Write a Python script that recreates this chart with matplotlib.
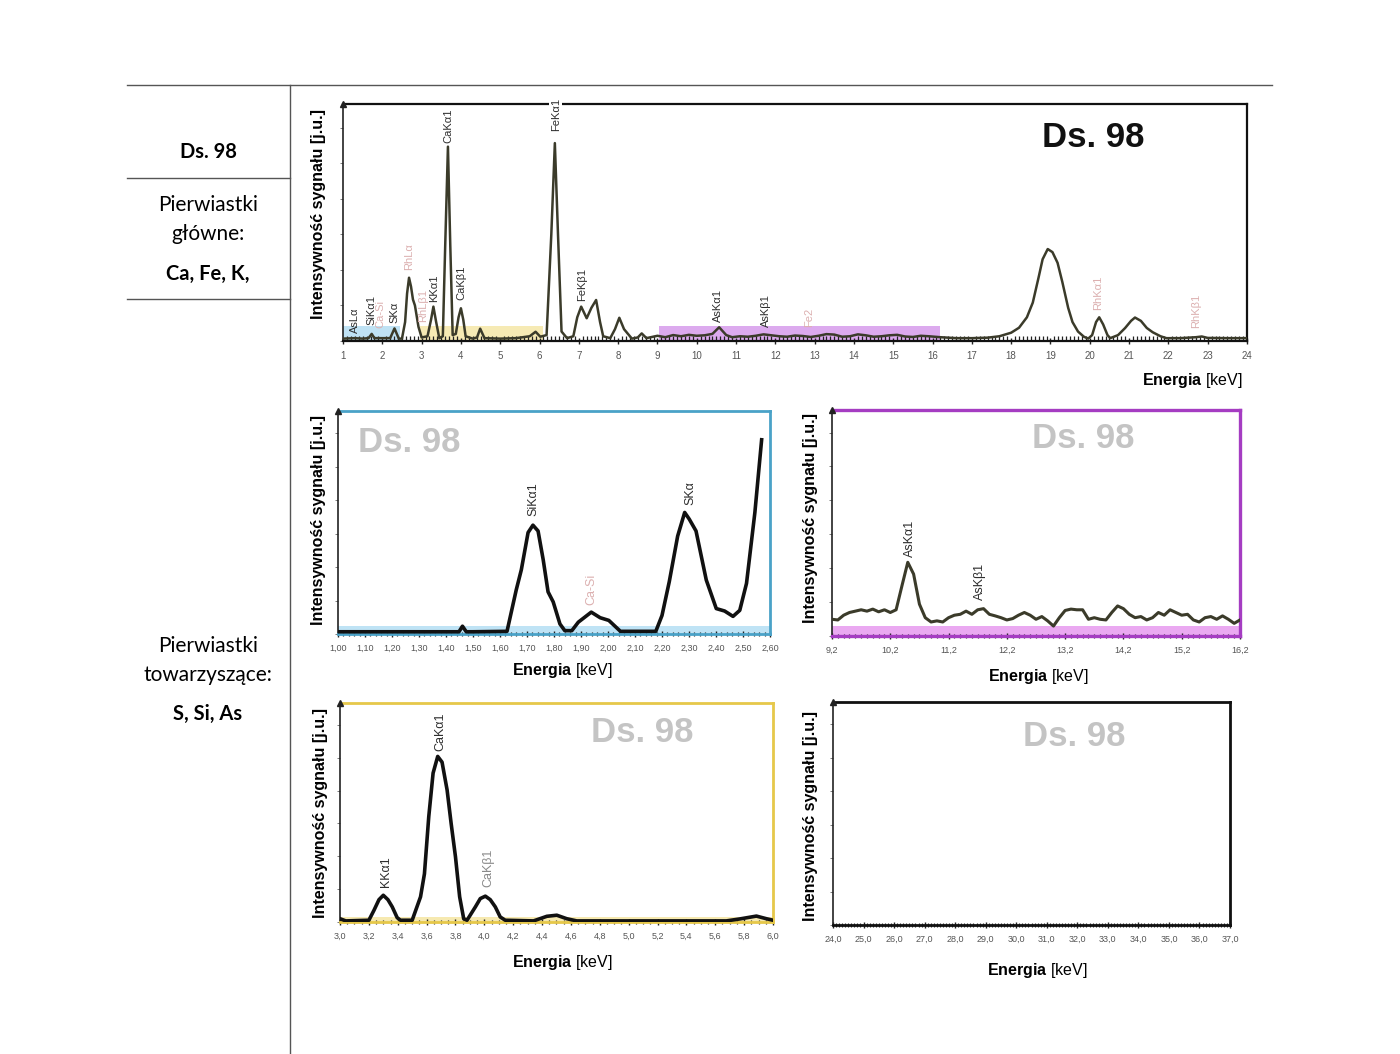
import matplotlib
matplotlib.use("Agg")

import numpy as np
import matplotlib.pyplot as plt
from matplotlib.lines import Line2D
from matplotlib.ticker import MultipleLocator

plt.rcParams['font.family'] = ['Liberation Sans', 'DejaVu Sans']
plt.rcParams['mathtext.fontset'] = 'custom'
plt.rcParams['mathtext.rm'] = 'Liberation Sans'
plt.rcParams['mathtext.bf'] = 'Liberation Sans:bold'

# ── Data (energy in keV, intensity in arbitrary units 0-100) ──

top_energy = [
    1.00, 1.30, 1.50, 1.65, 1.73, 1.80, 2.20, 2.31, 2.42, 2.50,
    2.58, 2.63, 2.68, 2.73, 2.78, 2.83, 2.92, 3.00, 3.15, 3.24,
    3.30, 3.37, 3.45, 3.54, 3.60, 3.67, 3.73, 3.79, 3.87, 3.94,
    4.00, 4.06, 4.12, 4.30, 4.41, 4.49, 4.60, 5.00, 5.40, 5.75,
    5.90, 6.02, 6.18, 6.30, 6.39, 6.47, 6.56, 6.70, 6.86, 6.96,
    7.06, 7.20, 7.32, 7.44, 7.54, 7.62, 7.80, 7.92, 8.03, 8.15,
    8.35, 8.50, 8.60, 8.72, 9.00, 9.20, 9.40, 9.60, 9.80, 10.00,
    10.20, 10.40, 10.57, 10.75, 10.90, 11.10, 11.30, 11.50, 11.70, 11.90,
    12.10, 12.30, 12.50, 12.70, 12.90, 13.10, 13.30, 13.50, 13.70, 13.90,
    14.10, 14.30, 14.50, 14.70, 14.90, 15.10, 15.30, 15.50, 15.70, 15.90,
    16.20, 16.60, 17.00, 17.40, 17.70, 18.00, 18.20, 18.40, 18.55, 18.70,
    18.80, 18.93, 19.05, 19.18, 19.30, 19.45, 19.56, 19.70, 19.85, 19.96,
    20.06, 20.16, 20.24, 20.34, 20.45, 20.52, 20.72, 20.90, 21.05, 21.15,
    21.30, 21.45, 21.60, 21.80, 21.95, 22.30, 22.70, 22.85, 23.00, 23.50, 24.00,
]
top_counts = [
    1.0, 1.2, 1.0, 1.2, 3.0, 1.2, 1.2, 5.3, 1.0, 1.0,
    8.0, 20.0, 26.7, 23.0, 17.5, 15.0, 6.0, 1.5, 2.0, 9.0,
    14.5, 8.0, 1.2, 2.0, 40.0, 82.0, 40.0, 2.5, 3.0, 10.0,
    13.8, 9.0, 2.0, 1.0, 1.5, 5.2, 1.2, 1.0, 1.2, 2.0,
    3.9, 1.8, 2.5, 45.0, 83.5, 45.0, 4.0, 1.2, 2.0, 10.0,
    14.5, 9.6, 14.0, 17.3, 8.0, 2.0, 1.2, 5.0, 9.8, 5.0,
    1.0, 1.5, 3.2, 1.2, 2.2, 1.6, 2.5, 2.0, 2.6, 2.2,
    2.4, 3.0, 5.8, 2.5, 1.6, 2.0, 1.8, 2.2, 2.8, 2.4,
    2.0, 1.8, 2.3, 2.1, 1.7, 2.2, 2.9, 2.7, 1.8, 2.0,
    2.8, 2.4, 1.8, 2.0, 2.4, 2.6, 1.9, 1.7, 2.2, 2.0,
    1.6, 1.2, 1.2, 1.4, 2.0, 3.5, 5.6, 10.0, 16.2, 27.0,
    34.5, 38.8, 37.5, 33.0, 25.0, 14.0, 8.0, 4.0, 1.8, 1.0,
    2.5, 8.0, 10.0, 7.0, 2.5, 1.2, 2.5, 5.5, 8.5, 9.9,
    8.5, 5.5, 3.7, 2.0, 1.2, 1.2, 1.6, 1.9, 1.3, 1.2, 1.2,
]

# line labels: (text, energy, height, colour key)
top_labels = [
    ("AsLα", 1.30, 3.4, "dark"), ("SiKα1", 1.73, 6.8, "dark"), ("Ca-Si", 1.94, 5.5, "pink"),
    ("SKα", 2.32, 7.6, "dark"), ("RhLα", 2.68, 30.0, "pink"), ("RhLβ1", 3.05, 8.0, "pink"),
    ("KKα1", 3.31, 16.5, "dark"), ("CaKα1", 3.69, 83.5, "dark"), ("CaKβ1", 4.02, 17.3, "dark"),
    ("FeKα1", 6.41, 88.6, "dark"), ("FeKβ1", 7.08, 16.9, "dark"), ("AsKα1", 10.55, 8.0, "dark"),
    ("AsKβ1", 11.75, 5.9, "dark"), ("Fe2", 12.85, 6.0, "pink"), ("RhKα1", 20.20, 13.0, "pink"),
    ("RhKβ1", 22.70, 5.5, "pink"),
]
top_ticks = list(range(1, 25))
# highlighted windows: (start keV, end keV, colour)
top_windows = [(1.0, 2.45, "#bfe2f4"), (2.95, 6.1, "#f6eab4"), (9.05, 16.2, "#dcaaee")]

blue_energy = [
    1.00, 1.20, 1.40, 1.448, 1.461, 1.475, 1.50, 1.626, 1.66, 1.679,
    1.704, 1.722, 1.741, 1.76, 1.778, 1.797, 1.822, 1.84, 1.866, 1.89,
    1.938, 1.971, 2.003, 2.046, 2.177, 2.20, 2.227, 2.258, 2.284, 2.301,
    2.326, 2.364, 2.401, 2.432, 2.463, 2.488, 2.513, 2.544, 2.569,
]
blue_counts = [
    1.0, 1.0, 1.0, 1.0, 3.5, 1.0, 1.0, 1.2, 19.7, 28.8,
    45.5, 48.8, 46.2, 33.3, 18.9, 14.4, 4.5, 1.5, 1.5, 5.3,
    9.8, 7.3, 6.1, 1.2, 1.2, 8.3, 23.5, 43.9, 54.5, 51.5,
    46.2, 24.2, 11.4, 10.3, 7.9, 10.6, 22.7, 54.5, 87.1,
]
blue_labels = [("SiKα1", 1.722, 53.0, "dark"), ("Ca-Si", 1.94, 13.0, "pink"), ("SKα", 2.307, 58.0, "dark")]
blue_ticks = [1.00, 1.10, 1.20, 1.30, 1.40, 1.50, 1.60, 1.70, 1.80, 1.90,
              2.00, 2.10, 2.20, 2.30, 2.40, 2.50, 2.60]

purple_energy = np.round(np.arange(9.2, 16.21, 0.1), 1)
purple_counts = [
    7.4, 7.1, 9.2, 10.4, 11.0, 11.6, 11.0, 11.9, 10.7, 11.6,
    10.4, 11.6, 22.2, 32.6, 27.4, 14.1, 8.1, 6.2, 6.7, 6.2,
    8.1, 9.2, 9.6, 11.0, 9.6, 11.6, 12.1, 9.6, 8.9, 8.1,
    7.1, 7.7, 9.2, 10.4, 9.2, 7.4, 8.6, 6.7, 4.4, 8.1,
    11.3, 11.9, 11.6, 11.6, 7.4, 8.1, 7.4, 7.1, 10.4, 13.3,
    12.1, 9.6, 8.1, 8.6, 7.1, 8.1, 10.4, 9.2, 11.6, 10.4,
    9.2, 9.6, 7.1, 6.2, 8.1, 8.6, 7.4, 8.9, 7.4, 5.6,
    7.1,
]
purple_labels = [("AsKα1", 10.53, 35.0, "dark"), ("AsKβ1", 11.74, 16.0, "dark")]
purple_ticks = [9.2, 10.2, 11.2, 12.2, 13.2, 14.2, 15.2, 16.2]

yellow_energy = [
    3.00, 3.04, 3.20, 3.235, 3.27, 3.30, 3.332, 3.362, 3.396, 3.419,
    3.50, 3.558, 3.585, 3.615, 3.645, 3.677, 3.707, 3.742, 3.77, 3.80,
    3.829, 3.857, 3.88, 3.938, 3.972, 4.007, 4.041, 4.076, 4.11, 4.145,
    4.341, 4.433, 4.502, 4.571, 4.64, 5.677, 5.77, 5.885, 5.954, 6.00,
]
yellow_counts = [
    1.5, 0.5, 0.8, 5.3, 10.2, 12.2, 10.2, 6.9, 2.0, 0.8,
    0.8, 11.5, 22.0, 48.1, 68.0, 75.6, 73.0, 60.3, 45.0, 29.8,
    11.5, 1.5, 0.8, 6.9, 10.7, 11.8, 10.2, 6.9, 2.3, 0.8,
    0.5, 2.6, 3.1, 1.5, 0.5, 0.5, 1.4, 2.7, 1.5, 0.8,
]
yellow_labels = [("KKα1", 3.316, 16.0, "dark"), ("CaKα1", 3.696, 78.0, "dark"), ("CaKβ1", 4.03, 16.0, "gray")]
yellow_ticks = [3.0, 3.2, 3.4, 3.6, 3.8, 4.0, 4.2, 4.4, 4.6, 4.8,
                5.0, 5.2, 5.4, 5.6, 5.8, 6.0]

black_ticks = [24.0, 25.0, 26.0, 27.0, 28.0, 29.0, 30.0, 31.0, 32.0, 33.0,
               34.0, 35.0, 36.0, 37.0]

label_colors = {"dark": "#2e2e2e", "pink": "#dcb0b0", "gray": "#8a8a8a"}

# ── Layout helpers (pixel boxes of the 1400x1054 page) ──────────────────────
W, H = 1400, 1054
fig = plt.figure(figsize=(14, 10.54), dpi=100)
fig.patch.set_facecolor("white")


def box(x0, y0, x1, y1):
    return [x0 / W, 1 - y1 / H, (x1 - x0) / W, (y1 - y0) / H]


def fp(x, y):
    return x / W, 1 - y / H


def hline(x0, x1, y, **kw):
    fig.add_artist(Line2D([x0 / W, x1 / W], [1 - y / H, 1 - y / H],
                          transform=fig.transFigure, **kw))


def vline(x, y0, y1, **kw):
    fig.add_artist(Line2D([x / W, x / W], [1 - y0 / H, 1 - y1 / H],
                          transform=fig.transFigure, **kw))


def comma(v, nd):
    return f"{v:.{nd}f}".replace(".", ",")


def spectrum_axes(rect, xlim, ticks, ticklabels, minor, edge, spine_w, tick_size,
                  minor_dir="inout"):
    ax = fig.add_axes(rect)
    ax.set_xlim(*xlim)
    ax.set_ylim(0, 100)
    for s in ax.spines.values():
        s.set_color(edge)
        s.set_linewidth(spine_w)
    ax.spines["left"].set_color("#222222")
    ax.spines["left"].set_linewidth(1.2)
    ax.set_xticks(ticks)
    ax.set_xticklabels(ticklabels)
    ax.xaxis.set_minor_locator(MultipleLocator(minor))
    ax.tick_params(axis="x", which="major", length=4, width=1.0, direction="inout",
                   color="#222222", labelsize=tick_size, labelcolor="#555555", pad=5)
    ax.tick_params(axis="x", which="minor", length=3.5, width=0.9, direction=minor_dir,
                   color="#222222")
    ax.set_yticks(np.arange(0, 100, 15))
    ax.tick_params(axis="y", length=2.5, width=0.6, color="#666666", labelleft=False)
    ax.plot([0], [1], transform=ax.transAxes, marker="^", ms=4, color="#222222",
            clip_on=False, zorder=6)
    return ax


def add_labels(ax, labels, size):
    for text, e, h, key in labels:
        ax.text(e, h, text, rotation=90, ha="center", va="bottom", fontsize=size,
                color=label_colors[key], zorder=5)


ylab = "Intensywność sygnału [j.u.]"
xlab = r"$\mathbf{Energia}$ [keV]"

# ── Left table column ──────────────────────────────────────────────────────
line_kw = dict(color="#555555", linewidth=1.0)
hline(127, 1272, 85, **line_kw)
vline(290, 85, 1054, **line_kw)
hline(127, 290, 178, **line_kw)
hline(127, 290, 299, **line_kw)

tfont = ["Lato", "DejaVu Sans"]
fig.text(*fp(208, 152), "Ds. 98", ha="center", va="center", fontsize=14.5,
         fontweight="bold", family=tfont)
fig.text(*fp(208, 205), "Pierwiastki", ha="center", va="center", fontsize=15, family=tfont)
fig.text(*fp(208, 234), "główne:", ha="center", va="center", fontsize=15, family=tfont)
fig.text(*fp(208, 274), "Ca, Fe, K,", ha="center", va="center", fontsize=14.5,
         fontweight="bold", family=tfont)
fig.text(*fp(208, 646), "Pierwiastki", ha="center", va="center", fontsize=15, family=tfont)
fig.text(*fp(208, 675), "towarzyszące:", ha="center", va="center", fontsize=15, family=tfont)
fig.text(*fp(208, 714), "S, Si, As", ha="center", va="center", fontsize=14.5,
         fontweight="bold", family=tfont)

# ── Top: full spectrum 1-24 keV ────────────────────────────────────────────
ax = spectrum_axes(box(343, 104, 1247, 341), (1, 24), top_ticks,
                   [str(t) for t in top_ticks], 0.1, "#111111", 1.6, 7, minor_dir="in")
for e0, e1, c in top_windows:
    ax.fill_between([e0, e1], 0, 6.5, color=c, lw=0, zorder=1)
ax.plot(top_energy, top_counts, color="#3b3b2a", lw=1.8, zorder=3,
        solid_joinstyle="round")
for text, e, h, key in top_labels:
    t = ax.text(e, h, text, rotation=90, ha="center", va="bottom", fontsize=8,
                color=label_colors[key], zorder=7, clip_on=False)
    if text == "FeKα1":
        t.set_bbox(dict(facecolor="white", edgecolor="none", pad=1))
ax.text(0.83, 0.86, "Ds. 98", transform=ax.transAxes, ha="center", va="center",
        fontsize=25, fontweight="bold", color="#111111")
fig.text(*fp(318, 214), ylab, rotation=90, ha="center", va="center",
         fontsize=11.5, fontweight="bold")
fig.text(*fp(1243, 381), xlab, ha="right", va="center", fontsize=11.5)

# ── Blue window: 1.00-2.60 keV ─────────────────────────────────────────────
ax = spectrum_axes(box(338, 411, 770, 634), (1.0, 2.6), blue_ticks,
                   [comma(t, 2) for t in blue_ticks], 0.02, "#4aa2c8", 2.0, 6.5)
ax.axhspan(0, 3.6, color="#bfe3f5", lw=0, zorder=1)
ax.plot(blue_energy, blue_counts, color="#111111", lw=2.6, zorder=3,
        solid_joinstyle="round")
add_labels(ax, blue_labels, 9)
fig.text(*fp(409, 443), "Ds. 98", ha="center", va="center", fontsize=25,
         fontweight="bold", color="#c4c4c4")
fig.text(*fp(318, 520), ylab, rotation=90, ha="center", va="center",
         fontsize=11.5, fontweight="bold")
fig.text(*fp(562, 671), xlab, ha="center", va="center", fontsize=11.5)

# ── Purple window: 9.2-16.2 keV ────────────────────────────────────────────
ax = spectrum_axes(box(832, 410, 1240, 636), (9.2, 16.2), purple_ticks,
                   [comma(t, 1) for t in purple_ticks], 0.1, "#a53cc2", 2.4, 6.5)
ax.axhspan(0, 4.4, color="#eaa9f1", lw=0, zorder=1)
ax.plot(purple_energy, purple_counts, color="#3b3b2a", lw=2.2, zorder=3)
add_labels(ax, purple_labels, 9)
fig.text(*fp(1083, 438), "Ds. 98", ha="center", va="center", fontsize=25,
         fontweight="bold", color="#c4c4c4")
fig.text(*fp(810, 518), ylab, rotation=90, ha="center", va="center",
         fontsize=11.5, fontweight="bold")
fig.text(*fp(1038, 677), xlab, ha="center", va="center", fontsize=11.5)

# ── Yellow window: 3.0-6.0 keV ─────────────────────────────────────────────
ax = spectrum_axes(box(340, 703, 773, 922), (3.0, 6.0), yellow_ticks,
                   [comma(t, 1) for t in yellow_ticks], 0.05, "#e6c84a", 2.0, 6.5)
ax.axhspan(0, 2.3, color="#f6e9b0", lw=0, zorder=1)
ax.plot(yellow_energy, yellow_counts, color="#111111", lw=2.6, zorder=3,
        solid_joinstyle="round")
add_labels(ax, yellow_labels, 9)
fig.text(*fp(642, 732), "Ds. 98", ha="center", va="center", fontsize=25,
         fontweight="bold", color="#c4c4c4")
fig.text(*fp(320, 813), ylab, rotation=90, ha="center", va="center",
         fontsize=11.5, fontweight="bold")
fig.text(*fp(562, 963), xlab, ha="center", va="center", fontsize=11.5)

# ── Black window: 24-37 keV (empty) ────────────────────────────────────────
ax = spectrum_axes(box(833, 702, 1230, 925), (24.0, 37.0), black_ticks,
                   [comma(t, 1) for t in black_ticks], 0.1, "#111111", 2.0, 6.5)
fig.text(*fp(1074, 737), "Ds. 98", ha="center", va="center", fontsize=25,
         fontweight="bold", color="#c4c4c4")
fig.text(*fp(811, 816), ylab, rotation=90, ha="center", va="center",
         fontsize=11.5, fontweight="bold")
fig.text(*fp(1037, 970), xlab, ha="center", va="center", fontsize=11.5)

fig.savefig("out.png", dpi=100, facecolor="white")
